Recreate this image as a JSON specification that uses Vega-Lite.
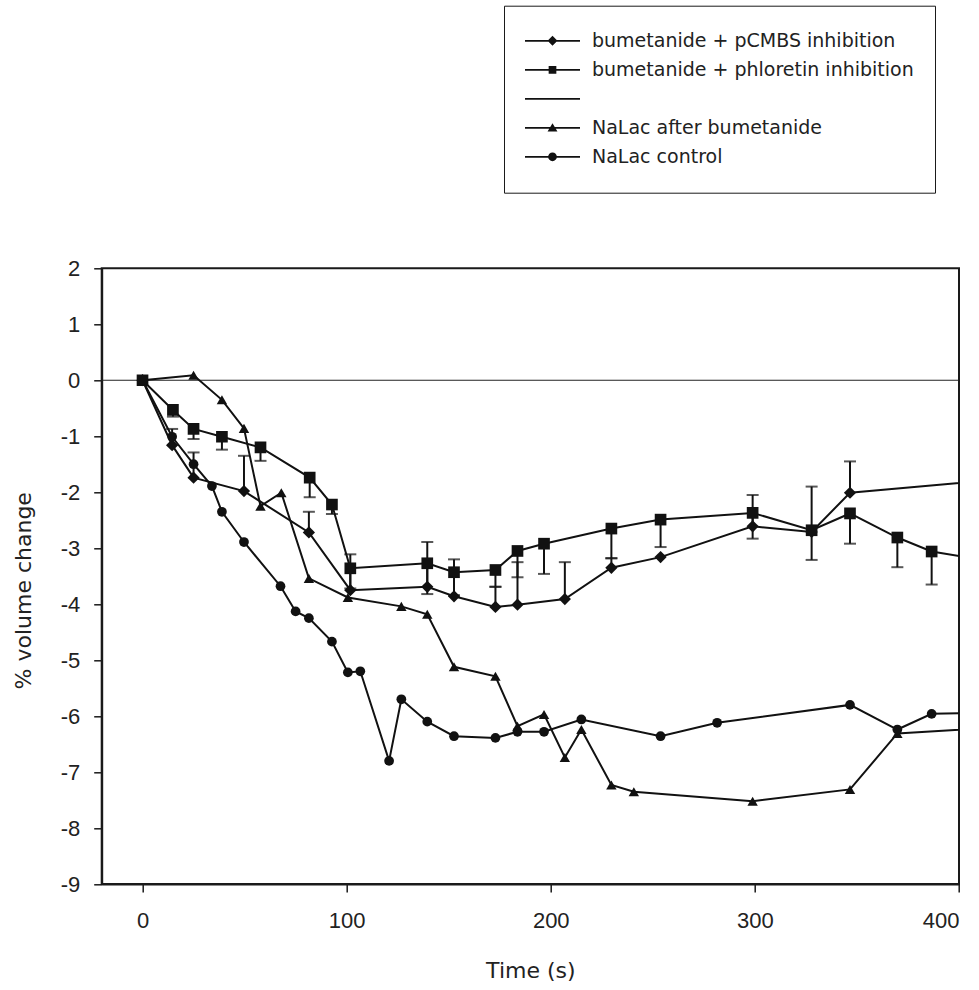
{
  "$schema": "https://vega.github.io/schema/vega-lite/v6.json",
  "width": 857.3,
  "height": 615.7,
  "autosize": {"type": "none"},
  "padding": {"left": 101.7, "top": 268.3, "right": 20, "bottom": 106},
  "background": "white",
  "config": {
    "view": {"stroke": "#1a1a1a", "strokeWidth": 2},
    "axis": {
      "grid": false,
      "domainColor": "#1a1a1a",
      "domainWidth": 2,
      "tickColor": "#1a1a1a",
      "tickWidth": 1.5,
      "tickSize": 8,
      "labelFont": "Liberation Sans",
      "labelFontSize": 22,
      "labelColor": "#222",
      "titleFont": "DejaVu Sans",
      "titleFontSize": 22,
      "titleFontWeight": "normal",
      "titleColor": "#222"
    }
  },
  "datasets": {
    "pts": [
      {"series": "", "t": -20, "v": 0},
      {"series": "", "t": 400, "v": 0},

      {"series": "bumetanide + pCMBS inhibition", "t": 0, "v": 0},
      {"series": "bumetanide + pCMBS inhibition", "t": 14.5, "v": -1.16},
      {"series": "bumetanide + pCMBS inhibition", "t": 25, "v": -1.74},
      {"series": "bumetanide + pCMBS inhibition", "t": 49.7, "v": -1.98},
      {"series": "bumetanide + pCMBS inhibition", "t": 81.5, "v": -2.72},
      {"series": "bumetanide + pCMBS inhibition", "t": 101.8, "v": -3.75},
      {"series": "bumetanide + pCMBS inhibition", "t": 139.5, "v": -3.69},
      {"series": "bumetanide + pCMBS inhibition", "t": 152.6, "v": -3.86},
      {"series": "bumetanide + pCMBS inhibition", "t": 172.9, "v": -4.05},
      {"series": "bumetanide + pCMBS inhibition", "t": 183.7, "v": -4.01},
      {"series": "bumetanide + pCMBS inhibition", "t": 206.9, "v": -3.91},
      {"series": "bumetanide + pCMBS inhibition", "t": 229.7, "v": -3.35},
      {"series": "bumetanide + pCMBS inhibition", "t": 253.8, "v": -3.16},
      {"series": "bumetanide + pCMBS inhibition", "t": 298.9, "v": -2.61},
      {"series": "bumetanide + pCMBS inhibition", "t": 327.8, "v": -2.71},
      {"series": "bumetanide + pCMBS inhibition", "t": 346.6, "v": -2.01},
      {"series": "bumetanide + pCMBS inhibition", "t": 420, "v": -1.77},

      {"series": "bumetanide + phloretin inhibition", "t": 0, "v": 0},
      {"series": "bumetanide + phloretin inhibition", "t": 14.9, "v": -0.53},
      {"series": "bumetanide + phloretin inhibition", "t": 25, "v": -0.87},
      {"series": "bumetanide + phloretin inhibition", "t": 38.9, "v": -1.01},
      {"series": "bumetanide + phloretin inhibition", "t": 57.8, "v": -1.2},
      {"series": "bumetanide + phloretin inhibition", "t": 81.9, "v": -1.74},
      {"series": "bumetanide + phloretin inhibition", "t": 92.8, "v": -2.22},
      {"series": "bumetanide + phloretin inhibition", "t": 101.8, "v": -3.36},
      {"series": "bumetanide + phloretin inhibition", "t": 139.5, "v": -3.27},
      {"series": "bumetanide + phloretin inhibition", "t": 152.6, "v": -3.43},
      {"series": "bumetanide + phloretin inhibition", "t": 172.9, "v": -3.39},
      {"series": "bumetanide + phloretin inhibition", "t": 183.7, "v": -3.05},
      {"series": "bumetanide + phloretin inhibition", "t": 196.7, "v": -2.92},
      {"series": "bumetanide + phloretin inhibition", "t": 229.7, "v": -2.65},
      {"series": "bumetanide + phloretin inhibition", "t": 253.8, "v": -2.49},
      {"series": "bumetanide + phloretin inhibition", "t": 298.9, "v": -2.37},
      {"series": "bumetanide + phloretin inhibition", "t": 327.8, "v": -2.68},
      {"series": "bumetanide + phloretin inhibition", "t": 346.6, "v": -2.38},
      {"series": "bumetanide + phloretin inhibition", "t": 369.8, "v": -2.81},
      {"series": "bumetanide + phloretin inhibition", "t": 386.6, "v": -3.06},
      {"series": "bumetanide + phloretin inhibition", "t": 420, "v": -3.26},

      {"series": "NaLac after bumetanide", "t": 0, "v": 0},
      {"series": "NaLac after bumetanide", "t": 25, "v": 0.09},
      {"series": "NaLac after bumetanide", "t": 38.9, "v": -0.35},
      {"series": "NaLac after bumetanide", "t": 49.7, "v": -0.86},
      {"series": "NaLac after bumetanide", "t": 57.8, "v": -2.25},
      {"series": "NaLac after bumetanide", "t": 68, "v": -2.01},
      {"series": "NaLac after bumetanide", "t": 81.5, "v": -3.54},
      {"series": "NaLac after bumetanide", "t": 100.6, "v": -3.88},
      {"series": "NaLac after bumetanide", "t": 126.8, "v": -4.04},
      {"series": "NaLac after bumetanide", "t": 139.5, "v": -4.18},
      {"series": "NaLac after bumetanide", "t": 152.6, "v": -5.12},
      {"series": "NaLac after bumetanide", "t": 172.9, "v": -5.29},
      {"series": "NaLac after bumetanide", "t": 183.7, "v": -6.18},
      {"series": "NaLac after bumetanide", "t": 196.7, "v": -5.97},
      {"series": "NaLac after bumetanide", "t": 206.9, "v": -6.74},
      {"series": "NaLac after bumetanide", "t": 215, "v": -6.24},
      {"series": "NaLac after bumetanide", "t": 229.7, "v": -7.23},
      {"series": "NaLac after bumetanide", "t": 240.7, "v": -7.35},
      {"series": "NaLac after bumetanide", "t": 298.9, "v": -7.52},
      {"series": "NaLac after bumetanide", "t": 346.6, "v": -7.31},
      {"series": "NaLac after bumetanide", "t": 369.8, "v": -6.31},
      {"series": "NaLac after bumetanide", "t": 420, "v": -6.2},

      {"series": "NaLac control", "t": 0, "v": 0},
      {"series": "NaLac control", "t": 14.5, "v": -1.01},
      {"series": "NaLac control", "t": 25, "v": -1.5},
      {"series": "NaLac control", "t": 34, "v": -1.89},
      {"series": "NaLac control", "t": 38.9, "v": -2.35},
      {"series": "NaLac control", "t": 49.7, "v": -2.89},
      {"series": "NaLac control", "t": 67.6, "v": -3.68},
      {"series": "NaLac control", "t": 75, "v": -4.13},
      {"series": "NaLac control", "t": 81.5, "v": -4.25},
      {"series": "NaLac control", "t": 92.8, "v": -4.67},
      {"series": "NaLac control", "t": 100.6, "v": -5.22},
      {"series": "NaLac control", "t": 106.7, "v": -5.2},
      {"series": "NaLac control", "t": 120.8, "v": -6.8},
      {"series": "NaLac control", "t": 126.8, "v": -5.7},
      {"series": "NaLac control", "t": 139.5, "v": -6.1},
      {"series": "NaLac control", "t": 152.6, "v": -6.36},
      {"series": "NaLac control", "t": 172.9, "v": -6.39},
      {"series": "NaLac control", "t": 183.7, "v": -6.28},
      {"series": "NaLac control", "t": 196.7, "v": -6.28},
      {"series": "NaLac control", "t": 215, "v": -6.06},
      {"series": "NaLac control", "t": 253.8, "v": -6.36},
      {"series": "NaLac control", "t": 281.5, "v": -6.12},
      {"series": "NaLac control", "t": 346.6, "v": -5.8},
      {"series": "NaLac control", "t": 369.8, "v": -6.24},
      {"series": "NaLac control", "t": 386.6, "v": -5.96},
      {"series": "NaLac control", "t": 420, "v": -5.93}
    ],
    "err": [
      {"series": "bumetanide + pCMBS inhibition", "t": 14.5, "v": -1.16, "e": -0.87},
      {"series": "bumetanide + pCMBS inhibition", "t": 25, "v": -1.74, "e": -1.29},
      {"series": "bumetanide + pCMBS inhibition", "t": 49.7, "v": -1.98, "e": -1.35},
      {"series": "bumetanide + pCMBS inhibition", "t": 81.5, "v": -2.72, "e": -2.35},
      {"series": "bumetanide + pCMBS inhibition", "t": 101.8, "v": -3.75, "e": -3.11},
      {"series": "bumetanide + pCMBS inhibition", "t": 139.5, "v": -3.69, "e": -2.89},
      {"series": "bumetanide + pCMBS inhibition", "t": 152.6, "v": -3.86, "e": -3.2},
      {"series": "bumetanide + pCMBS inhibition", "t": 172.9, "v": -4.05, "e": -3.69},
      {"series": "bumetanide + pCMBS inhibition", "t": 183.7, "v": -4.01, "e": -3.25},
      {"series": "bumetanide + pCMBS inhibition", "t": 206.9, "v": -3.91, "e": -3.25},
      {"series": "bumetanide + pCMBS inhibition", "t": 229.7, "v": -3.35, "e": -3.18},
      {"series": "bumetanide + pCMBS inhibition", "t": 298.9, "v": -2.61, "e": -2.05},
      {"series": "bumetanide + pCMBS inhibition", "t": 327.8, "v": -2.71, "e": -1.9},
      {"series": "bumetanide + pCMBS inhibition", "t": 346.6, "v": -2.01, "e": -1.45},
      {"series": "bumetanide + phloretin inhibition", "t": 14.9, "v": -0.53, "e": -0.65},
      {"series": "bumetanide + phloretin inhibition", "t": 25, "v": -0.87, "e": -1.05},
      {"series": "bumetanide + phloretin inhibition", "t": 38.9, "v": -1.01, "e": -1.24},
      {"series": "bumetanide + phloretin inhibition", "t": 57.8, "v": -1.2, "e": -1.44},
      {"series": "bumetanide + phloretin inhibition", "t": 81.9, "v": -1.74, "e": -2.09},
      {"series": "bumetanide + phloretin inhibition", "t": 92.8, "v": -2.22, "e": -2.39},
      {"series": "bumetanide + phloretin inhibition", "t": 101.8, "v": -3.36, "e": -3.72},
      {"series": "bumetanide + phloretin inhibition", "t": 139.5, "v": -3.27, "e": -3.82},
      {"series": "bumetanide + phloretin inhibition", "t": 152.6, "v": -3.43, "e": -3.84},
      {"series": "bumetanide + phloretin inhibition", "t": 172.9, "v": -3.39, "e": -3.69},
      {"series": "bumetanide + phloretin inhibition", "t": 183.7, "v": -3.05, "e": -3.52},
      {"series": "bumetanide + phloretin inhibition", "t": 196.7, "v": -2.92, "e": -3.46},
      {"series": "bumetanide + phloretin inhibition", "t": 229.7, "v": -2.65, "e": -3.18},
      {"series": "bumetanide + phloretin inhibition", "t": 253.8, "v": -2.49, "e": -2.98},
      {"series": "bumetanide + phloretin inhibition", "t": 298.9, "v": -2.37, "e": -2.83},
      {"series": "bumetanide + phloretin inhibition", "t": 327.8, "v": -2.68, "e": -3.21},
      {"series": "bumetanide + phloretin inhibition", "t": 346.6, "v": -2.38, "e": -2.92},
      {"series": "bumetanide + phloretin inhibition", "t": 369.8, "v": -2.81, "e": -3.34},
      {"series": "bumetanide + phloretin inhibition", "t": 386.6, "v": -3.06, "e": -3.65}
    ]
  },
  "layer": [
    {
      "data": {"name": "pts"},
      "transform": [{"filter": "datum.series === ''"}],
      "mark": {"type": "line", "color": "#222", "strokeWidth": 1.2},
      "encoding": {
        "x": {
          "field": "t", "type": "quantitative",
          "scale": {"domain": [-20, 400], "nice": false, "zero": false},
          "axis": {"title": "Time (s)", "values": [0, 100, 200, 300, 400], "labelExpr": "toString(datum.value)", "labelPadding": 18, "titlePadding": 29}
        },
        "y": {
          "field": "v", "type": "quantitative",
          "scale": {"domain": [-9, 2], "nice": false, "zero": false},
          "axis": {"title": "% volume change", "values": [-9, -8, -7, -6, -5, -4, -3, -2, -1, 0, 1, 2], "labelExpr": "toString(datum.value)", "labelPadding": 14, "titlePadding": 25, "titleY": 322}
        }
      }
    },
    {
      "data": {"name": "pts"},
      "transform": [{"filter": "datum.series !== ''"}],
      "mark": {"type": "line", "color": "#111", "strokeWidth": 2, "clip": true},
      "encoding": {
        "x": {"field": "t", "type": "quantitative"},
        "y": {"field": "v", "type": "quantitative"},
        "detail": {"field": "series", "type": "nominal"}
      }
    },
    {
      "data": {"name": "err"},
      "mark": {"type": "rule", "color": "#111", "strokeWidth": 2},
      "encoding": {
        "x": {"field": "t", "type": "quantitative"},
        "y": {"field": "v", "type": "quantitative"},
        "y2": {"field": "e"}
      }
    },
    {
      "data": {"name": "err"},
      "mark": {"type": "tick", "orient": "horizontal", "color": "#111", "size": 12, "thickness": 2},
      "encoding": {
        "x": {"field": "t", "type": "quantitative"},
        "y": {"field": "e", "type": "quantitative"}
      }
    },
    {
      "data": {"name": "pts"},
      "transform": [{"filter": "datum.series !== ''"}],
      "mark": {"type": "point", "filled": true, "color": "#111", "opacity": 1, "clip": true},
      "encoding": {
        "x": {"field": "t", "type": "quantitative"},
        "y": {"field": "v", "type": "quantitative"},
        "shape": {
          "field": "series", "type": "nominal",
          "scale": {
            "domain": ["bumetanide + pCMBS inhibition", "bumetanide + phloretin inhibition", "", "NaLac after bumetanide", "NaLac control"],
            "range": ["diamond", "square", "circle", "triangle-up", "circle"]
          },
          "legend": null
        },
        "size": {
          "field": "series", "type": "nominal",
          "scale": {
            "domain": ["bumetanide + pCMBS inhibition", "bumetanide + phloretin inhibition", "", "NaLac after bumetanide", "NaLac control"],
            "range": [150, 95, 1, 110, 115]
          },
          "legend": null
        }
      }
    },
    {
      "data": {"name": "pts"},
      "mark": {"type": "point", "filled": true, "color": "#111", "opacity": 0, "clip": true},
      "encoding": {
        "x": {"field": "t", "type": "quantitative"},
        "y": {"field": "v", "type": "quantitative"},
        "shape": {
          "field": "series", "type": "nominal",
          "scale": {
            "domain": ["bumetanide + pCMBS inhibition", "bumetanide + phloretin inhibition", "", "NaLac after bumetanide", "NaLac control"],
            "range": [
              "M-1,-0.033H1V0.033H-1ZM0,-0.18L0.18,0L0,0.18L-0.18,0Z",
              "M-1,-0.033H1V0.033H-1ZM-0.14,-0.14H0.14V0.14H-0.14Z",
              "M-1,-0.033H1V0.033H-1Z",
              "M-1,-0.033H1V0.033H-1ZM0,-0.17L0.18,0.13L-0.18,0.13Z",
              "M-1,-0.033H1V0.033H-1ZM-0.16,0A0.16,0.16,0,1,1,0.16,0A0.16,0.16,0,1,1,-0.16,0Z"
            ]
          },
          "legend": {
            "orient": "none",
            "legendX": 402.3,
            "legendY": -262.6,
            "title": null,
            "symbolSize": 3025,
            "symbolStrokeWidth": 0,
            "symbolFillColor": "#111",
            "symbolOpacity": 1,
            "labelFont": "DejaVu Sans",
            "labelFontSize": 19,
            "labelColor": "#222",
            "labelOffset": 12,
            "labelLimit": 500,
            "clipHeight": 28.25,
            "rowPadding": 0,
            "padding": 21,
            "strokeColor": "#1a1a1a",
            "fillColor": "white"
          }
        }
      }
    }
  ],
  "resolve": {
    "scale": {"shape": "independent", "size": "independent"},
    "legend": {"shape": "independent"}
  }
}
